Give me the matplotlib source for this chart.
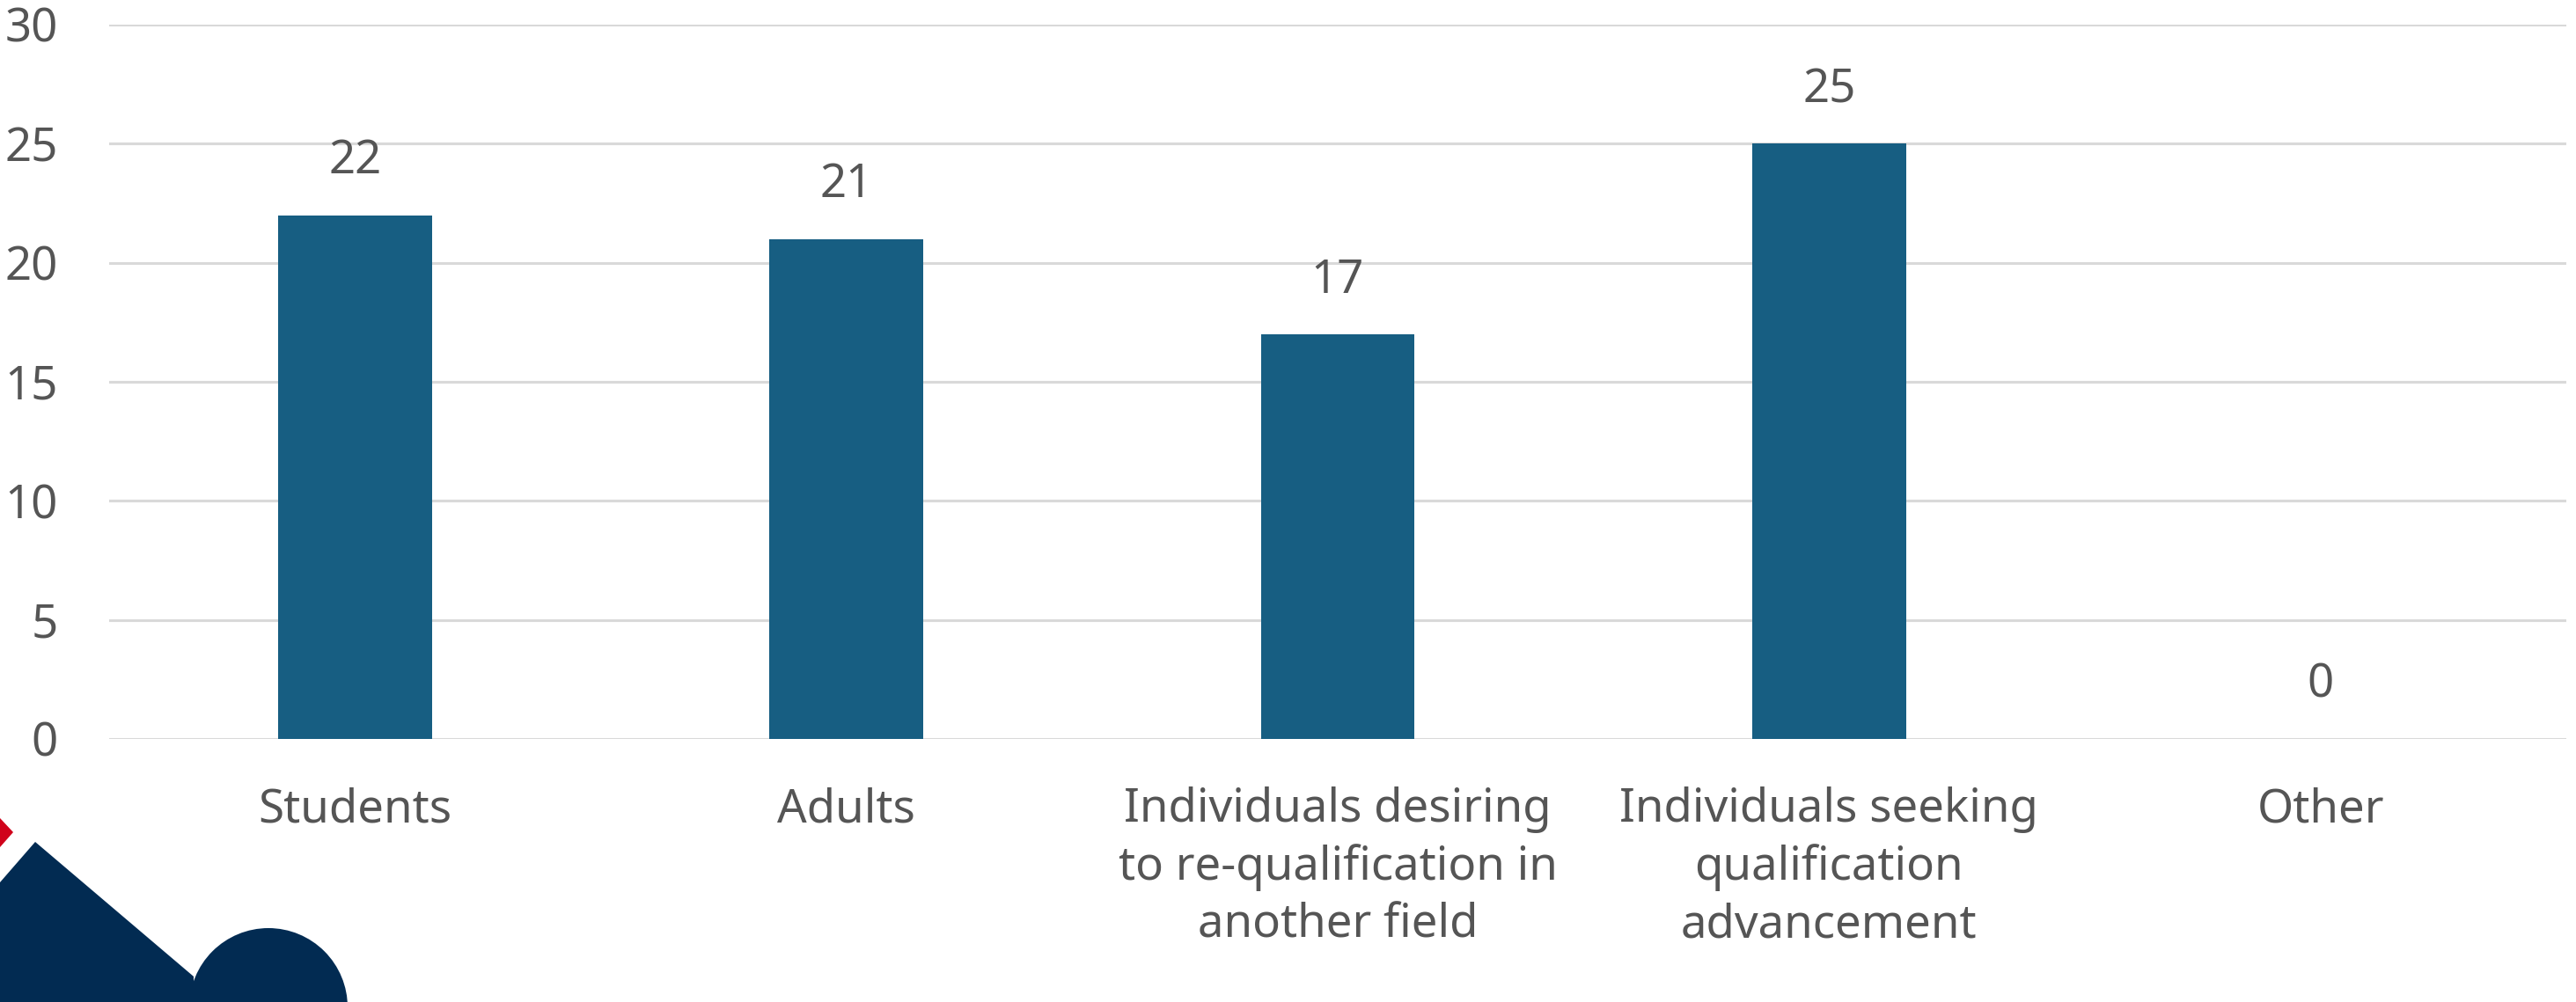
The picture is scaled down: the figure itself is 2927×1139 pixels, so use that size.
import matplotlib
matplotlib.use("Agg")
import matplotlib.pyplot as plt
from matplotlib.patches import Polygon, Circle

# Survey responses by target group
categories = [
    "Students",
    "Adults",
    "Individuals desiring\nto re-qualification in\nanother field",
    "Individuals seeking\nqualification\nadvancement",
    "Other",
]
counts = [22, 21, 17, 25, 0]
y_ticks = [0, 5, 10, 15, 20, 25, 30]

BAR_COLOR = "#175E82"
TEXT_COLOR = "#555555"
GRID_COLOR = "#D9D9D9"
NAVY = "#022B52"
RED = "#D0021B"

W_PX, H_PX, DPI = 2927, 1139, 100
plt.rcParams["font.family"] = ["Noto Sans", "DejaVu Sans"]

fig = plt.figure(figsize=(W_PX / DPI, H_PX / DPI), dpi=DPI, facecolor="white")
ax = fig.add_axes([124 / W_PX, 1 - 840 / H_PX, (2916 - 124) / W_PX, (840 - 28) / H_PX])
ax.set_facecolor("white")

x = range(len(categories))
bars = ax.bar(x, counts, width=0.313, color=BAR_COLOR, zorder=3)

ax.set_xlim(-0.5, len(categories) - 0.5)
ax.set_ylim(0, 30)
ax.set_yticks(y_ticks)
ax.set_xticks(list(x))
ax.set_xticklabels(categories, linespacing=1.3)

ax.yaxis.grid(True, color=GRID_COLOR, linewidth=2.2, zorder=0)
ax.set_axisbelow(True)
for s in ax.spines.values():
    s.set_visible(False)

ax.tick_params(axis="y", length=0, pad=42, labelsize=38, labelcolor=TEXT_COLOR)
ax.tick_params(axis="x", length=0, pad=39, labelsize=38, labelcolor=TEXT_COLOR)

# value labels above each bar
for rect, v in zip(bars, counts):
    ax.annotate(str(v), (rect.get_x() + rect.get_width() / 2, v),
                xytext=(0, 34), textcoords="offset points",
                ha="center", va="baseline", fontsize=38, color=TEXT_COLOR)

# corner decoration (pixel coordinates converted to inches)
def px(xp, yp):
    return (xp / DPI, (H_PX - yp) / DPI)

navy_poly = Polygon([px(0, 1139), px(0, 1003), px(40, 957), px(220, 1110),
                     px(220, 1139)], closed=True, facecolor=NAVY,
                    edgecolor="none", transform=fig.dpi_scale_trans)
fig.add_artist(navy_poly)
navy_circle = Circle(px(305, 1145), 90 / DPI, facecolor=NAVY, edgecolor="none",
                     transform=fig.dpi_scale_trans)
fig.add_artist(navy_circle)
red_tri = Polygon([px(0, 930), px(15, 946), px(0, 963)], closed=True,
                  facecolor=RED, edgecolor="none", transform=fig.dpi_scale_trans)
fig.add_artist(red_tri)

fig.savefig("out.png", dpi=DPI, facecolor="white")
